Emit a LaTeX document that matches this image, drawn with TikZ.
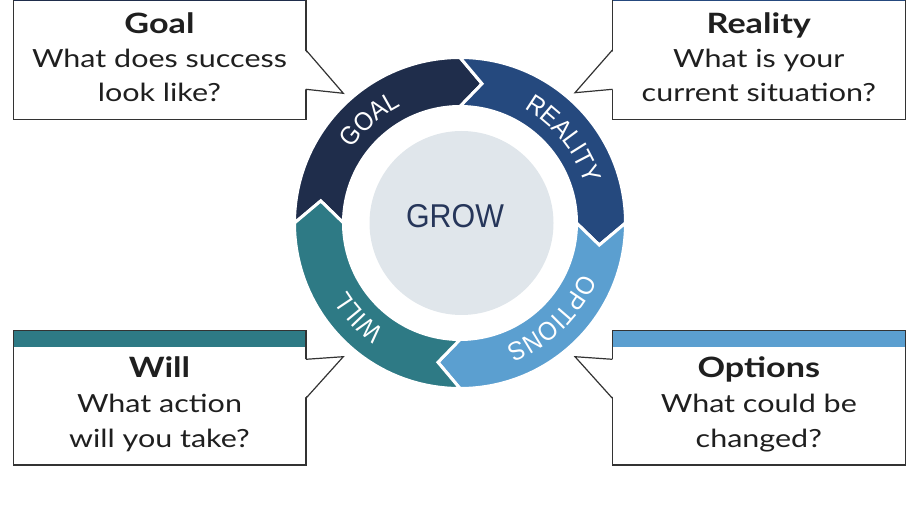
\documentclass[tikz,border=0pt]{standalone}
\usepackage{fontspec}
\usepackage{tikz}
\usetikzlibrary{calc,decorations.text}
\setmainfont{Lato}[FakeStretch=1.22]
\newfontfamily\ringfont{Liberation Sans}[FakeStretch=0.92]
\definecolor{goalcol}{HTML}{1F2D4B}
\definecolor{realcol}{HTML}{25497E}
\definecolor{optcol}{HTML}{5B9FD0}
\definecolor{willcol}{HTML}{2E7A85}
\definecolor{growcol}{HTML}{E0E6EB}
\definecolor{growtext}{HTML}{26365A}
\definecolor{edgecol}{HTML}{333333}

\begin{document}
\begin{tikzpicture}[x=1pt,y=1pt,
    infobox/.style={fill=white, minimum width=292.4pt, minimum height=134pt, inner sep=0pt},
    boxedge/.style={draw=edgecol, line width=1.2pt},
    boxtitle/.style={anchor=base, font=\fontsize{28}{28}\selectfont\bfseries, text=black!88},
    boxtext/.style={anchor=base, font=\fontsize{25}{25}\selectfont, text=black!88},
    gap/.style={draw=white, line width=3pt, line join=miter}]
    \useasboundingbox (0,0) rectangle (907,519);
    \clip (0,0) rectangle (907,519);

    % ring
    \begin{scope}[shift={(460,296)}]
        \path[fill=goalcol, gap] (180:165.5) arc[start angle=180, end angle=90, radius=165.5] -- (81:141) -- (90:116.5) arc[start angle=90, end angle=180, radius=116.5] -- (171:141) -- cycle;
        \path[fill=realcol, gap] (90:165.5) arc[start angle=90, end angle=0, radius=165.5] -- (-9:141) -- (0:116.5) arc[start angle=0, end angle=90, radius=116.5] -- (81:141) -- cycle;
        \path[fill=optcol, gap] (0:165.5) arc[start angle=0, end angle=-90, radius=165.5] -- (-99:141) -- (-90:116.5) arc[start angle=-90, end angle=0, radius=116.5] -- (-9:141) -- cycle;
        \path[fill=willcol, gap] (-90:165.5) arc[start angle=-90, end angle=-180, radius=165.5] -- (-189:141) -- (-180:116.5) arc[start angle=-180, end angle=-90, radius=116.5] -- (-99:141) -- cycle;

        \path[decorate, decoration={text along path, text align=center, text color=white, text={|\ringfont\fontsize{26}{26}\selectfont|GOAL}}] (176:131) arc[start angle=176, end angle=86, radius=131];
        \path[decorate, decoration={text along path, text align=center, text color=white, text={|\ringfont\fontsize{26}{26}\selectfont|REALITY}}] (84:131) arc[start angle=84, end angle=-6, radius=131];
        \path[decorate, decoration={text along path, text align=center, text color=white, text={|\ringfont\fontsize{26}{26}\selectfont|OPTIONS}}] (-1:131) arc[start angle=-1, end angle=-91, radius=131];
        \path[decorate, decoration={text along path, text align=center, text color=white, text={|\ringfont\fontsize{26}{26}\selectfont|WILL}}] (-92:131) arc[start angle=-92, end angle=-182, radius=131];

        \node[circle, fill=growcol, minimum size=184pt, inner sep=0pt] (grow) at (1.5,0) {};
        \node[text=growtext, font=\ringfont\fontsize{33}{33}\selectfont] (growlabel) at ([shift={(-6.5,6.7)}]grow.center) {GROW};
    \end{scope}

    % Goal
    \node[infobox] (goal) at (159.5,466.9) {};
    \fill[goalcol] ([yshift=-0.6]goal.north west) rectangle ([yshift=-16.6]goal.north east);
    \draw[boxedge] (goal.south west) rectangle (goal.north east);
    \coordinate (goaltip) at (343.3,425.7);
    \fill[white] ([shift={(-1.5,2.1)}]goal.east) -- (goaltip) -- ([shift={(-1.5,-37.2)}]goal.east) -- cycle;
    \draw[boxedge] ([yshift=2.1]goal.east) -- (goaltip) -- ([yshift=-37.2]goal.east);
    \node[boxtitle] (goaltitle) at (159.5,485) {Goal};
    \node[boxtext] (goalline1) at (159.5,451) {What does success};
    \node[boxtext] (goalline2) at (159.5,417) {look like?};

    % Reality
    \node[infobox] (reality) at (758.8,466.9) {};
    \fill[realcol] ([yshift=-0.6]reality.north west) rectangle ([yshift=-16.6]reality.north east);
    \draw[boxedge] (reality.south west) rectangle (reality.north east);
    \coordinate (realitytip) at (575,426.3);
    \fill[white] ([shift={(1.5,2.1)}]reality.west) -- (realitytip) -- ([shift={(1.5,-37.2)}]reality.west) -- cycle;
    \draw[boxedge] ([yshift=2.1]reality.west) -- (realitytip) -- ([yshift=-37.2]reality.west);
    \node[boxtitle] (realitytitle) at (758.8,485) {Reality};
    \node[boxtext] (realityline1) at (758.8,451) {What is your};
    \node[boxtext] (realityline2) at (758.8,417) {current situation?};

    % Will
    \node[infobox] (will) at (159.5,121.2) {};
    \fill[willcol] ([yshift=-0.6]will.north west) rectangle ([yshift=-16.6]will.north east);
    \draw[boxedge] (will.south west) rectangle (will.north east);
    \coordinate (willtip) at (343.3,162.3);
    \fill[white] ([shift={(-1.5,38.5)}]will.east) -- (willtip) -- ([shift={(-1.5,-0.5)}]will.east) -- cycle;
    \draw[boxedge] ([yshift=38.5]will.east) -- (willtip) -- ([yshift=-0.5]will.east);
    \node[boxtitle] (willtitle) at (159.5,141) {Will};
    \node[boxtext] (willline1) at (159.5,106) {What action};
    \node[boxtext] (willline2) at (159.5,71) {will you take?};

    % Options
    \node[infobox] (options) at (758.8,121.2) {};
    \fill[optcol] ([yshift=-0.6]options.north west) rectangle ([yshift=-16.6]options.north east);
    \draw[boxedge] (options.south west) rectangle (options.north east);
    \coordinate (optionstip) at (575,162.3);
    \fill[white] ([shift={(1.5,38.5)}]options.west) -- (optionstip) -- ([shift={(1.5,-0.5)}]options.west) -- cycle;
    \draw[boxedge] ([yshift=38.5]options.west) -- (optionstip) -- ([yshift=-0.5]options.west);
    \node[boxtitle] (optionstitle) at (758.8,141) {Options};
    \node[boxtext] (optionsline1) at (758.8,106) {What could be};
    \node[boxtext] (optionsline2) at (758.8,71) {changed?};
\end{tikzpicture}
\end{document}
